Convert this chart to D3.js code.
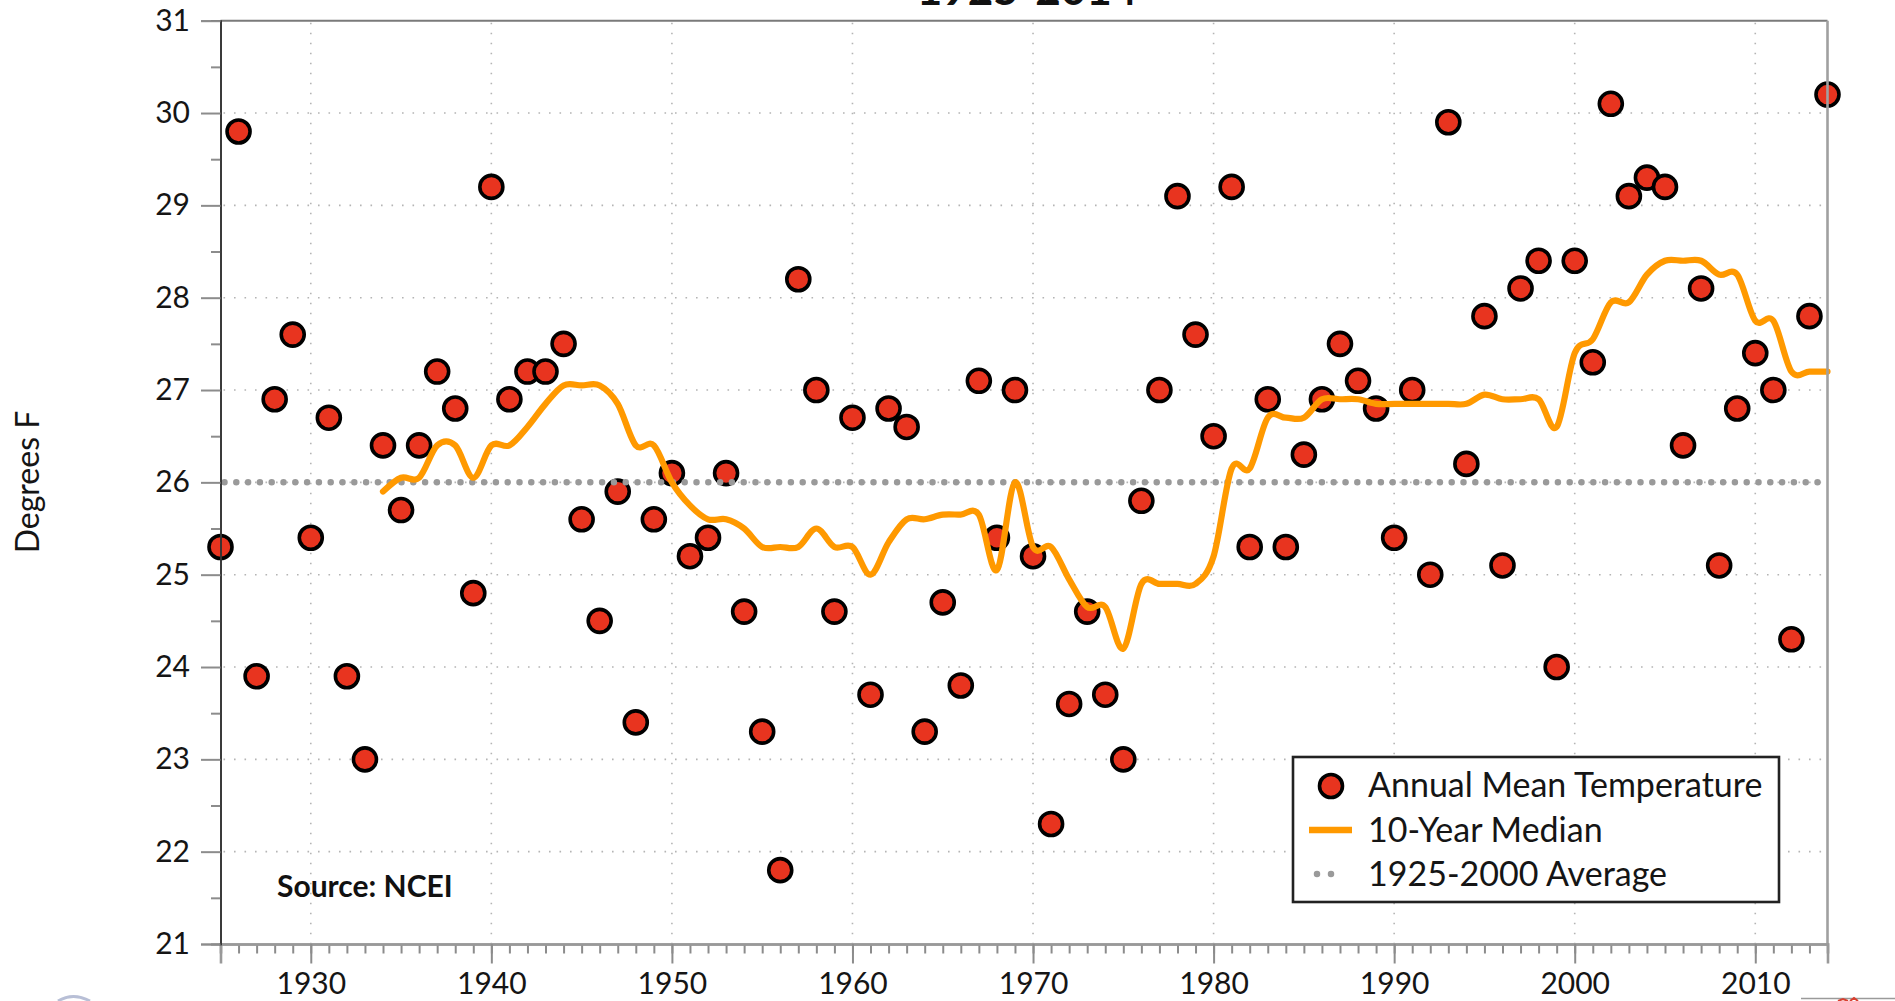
<!DOCTYPE html>
<html>
<head>
<meta charset="utf-8">
<script src="https://cdn.jsdelivr.net/npm/d3@7"></script>
<style>
  html, body { margin: 0; padding: 0; background: #ffffff; }
  svg { display: block; }
  text { font-family: Lato, "Open Sans", "DejaVu Sans", sans-serif; }
</style>
</head>
<body>
<svg id="chart" width="1895" height="1001"></svg>
<script>
// ---------------- data ----------------
const chartTitle = "1925-2014";
const yAxisTitle = "Degrees F";
const sourceNote = "Source: NCEI";

const years = [1925,1926,1927,1928,1929,1930,1931,1932,1933,1934,1935,1936,1937,1938,1939,
  1940,1941,1942,1943,1944,1945,1946,1947,1948,1949,1950,1951,1952,1953,1954,1955,1956,1957,
  1958,1959,1960,1961,1962,1963,1964,1965,1966,1967,1968,1969,1970,1971,1972,1973,1974,1975,
  1976,1977,1978,1979,1980,1981,1982,1983,1984,1985,1986,1987,1988,1989,1990,1991,1992,1993,
  1994,1995,1996,1997,1998,1999,2000,2001,2002,2003,2004,2005,2006,2007,2008,2009,2010,2011,
  2012,2013,2014];

const annualMean = [25.3,29.8,23.9,26.9,27.6,25.4,26.7,23.9,23.0,26.4,25.7,26.4,27.2,26.8,24.8,
  29.2,26.9,27.2,27.2,27.5,25.6,24.5,25.9,23.4,25.6,26.1,25.2,25.4,26.1,24.6,23.3,21.8,28.2,
  27.0,24.6,26.7,23.7,26.8,26.6,23.3,24.7,23.8,27.1,25.4,27.0,25.2,22.3,23.6,24.6,23.7,23.0,
  25.8,27.0,29.1,27.6,26.5,29.2,25.3,26.9,25.3,26.3,26.9,27.5,27.1,26.8,25.4,27.0,25.0,29.9,
  26.2,27.8,25.1,28.1,28.4,24.0,28.4,27.3,30.1,29.1,29.3,29.2,26.4,28.1,25.1,26.8,27.4,27.0,
  24.3,27.8,30.2];

const medianYears = [1934,1935,1936,1937,1938,1939,1940,1941,1942,1943,1944,1945,1946,1947,1948,
  1949,1950,1951,1952,1953,1954,1955,1956,1957,1958,1959,1960,1961,1962,1963,1964,1965,1966,
  1967,1968,1969,1970,1971,1972,1973,1974,1975,1976,1977,1978,1979,1980,1981,1982,1983,1984,
  1985,1986,1987,1988,1989,1990,1991,1992,1993,1994,1995,1996,1997,1998,1999,2000,2001,2002,
  2003,2004,2005,2006,2007,2008,2009,2010,2011,2012,2013,2014];

const median10yr = [25.9,26.05,26.05,26.4,26.4,26.05,26.4,26.4,26.6,26.85,27.05,27.05,27.05,26.85,26.4,
  26.4,26.0,25.75,25.6,25.6,25.5,25.3,25.3,25.3,25.5,25.3,25.3,25.0,25.35,25.6,25.6,25.65,25.65,
  25.65,25.05,26.0,25.3,25.3,24.95,24.65,24.65,24.2,24.9,24.9,24.9,24.9,25.2,26.15,26.15,26.7,26.7,
  26.7,26.9,26.9,26.9,26.85,26.85,26.85,26.85,26.85,26.85,26.95,26.9,26.9,26.9,26.6,27.4,27.55,27.95,
  27.95,28.25,28.4,28.4,28.4,28.25,28.25,27.75,27.75,27.2,27.2,27.2];

const averageValue = 26.0;
const averageYears = [1925, 2014];

const xMajorTicks = [1930,1940,1950,1960,1970,1980,1990,2000,2010];
const xMinorTicks = years;
const yMajorTicks = [21,22,23,24,25,26,27,28,29,30,31];
const yMinorTicks = [21.5,22.5,23.5,24.5,25.5,26.5,27.5,28.5,29.5,30.5];

const legendLabels = ["Annual Mean Temperature", "10-Year Median", "1925-2000 Average"];

// ---------------- layout ----------------
const plot = { left: 220.5, right: 1827.5, top: 20.7, bottom: 944 };
const colors = { point: "#E8341F", pointStroke: "#000000", median: "#FF9900",
                 avg: "#9a9a9a", grid: "#b4b4b4", axis: "#8c8c8c", text: "#151515" };

const svg = d3.select("#chart");
const x = d3.scaleLinear().domain([1925, 2014]).range([plot.left, plot.right]);
const y = d3.scaleLinear().domain([21, 31]).range([plot.bottom, plot.top]);

// grid
const grid = svg.append("g");
grid.selectAll("line.vg").data(xMajorTicks).enter().append("line")
  .attr("x1", d => x(d)).attr("x2", d => x(d))
  .attr("y1", plot.top + 2).attr("y2", plot.bottom)
  .attr("stroke", colors.grid).attr("stroke-width", 1.6)
  .attr("stroke-dasharray", "1.6 8.4");
grid.selectAll("line.hg").data(yMajorTicks.filter(d => d > 21 && d < 31)).enter().append("line")
  .attr("x1", plot.left + 3).attr("x2", plot.right)
  .attr("y1", d => y(d)).attr("y2", d => y(d))
  .attr("stroke", colors.grid).attr("stroke-width", 1.6)
  .attr("stroke-dasharray", "1.6 8.9");

// points
const pts = years.map((yr, i) => ({ yr, v: annualMean[i] }));
svg.append("g").selectAll("circle").data(pts).enter().append("circle")
  .attr("cx", d => x(d.yr)).attr("cy", d => y(d.v)).attr("r", 11.5)
  .attr("fill", colors.point).attr("stroke", colors.pointStroke).attr("stroke-width", 3.6);

// average line
svg.append("line")
  .attr("x1", x(averageYears[0]) + 4).attr("x2", x(averageYears[1]))
  .attr("y1", y(averageValue)).attr("y2", y(averageValue))
  .attr("stroke", colors.avg).attr("stroke-width", 6.5)
  .attr("stroke-linecap", "round").attr("stroke-dasharray", "0 11.8");

// median line
const medPts = medianYears.map((yr, i) => ({ yr, v: median10yr[i] }));
const line = d3.line().x(d => x(d.yr)).y(d => y(d.v)).curve(d3.curveCatmullRom.alpha(0));
svg.append("path").datum(medPts).attr("d", line)
  .attr("fill", "none").attr("stroke", colors.median).attr("stroke-width", 6.2)
  .attr("stroke-linejoin", "round").attr("stroke-linecap", "round");

// frame (top & right)
svg.append("line").attr("x1", plot.left).attr("x2", plot.right)
  .attr("y1", plot.top).attr("y2", plot.top)
  .attr("stroke", "#7a7a7a").attr("stroke-width", 2);
svg.append("line").attr("x1", plot.right).attr("x2", plot.right)
  .attr("y1", plot.top).attr("y2", plot.bottom)
  .attr("stroke", "#a0a0a0").attr("stroke-width", 2.6);

// x axis
const xMinor = d3.axisBottom(x).tickValues(xMinorTicks).tickSize(9.5).tickFormat("");
const xMajor = d3.axisBottom(x).tickValues(xMajorTicks).tickSize(19.5).tickPadding(9)
  .tickFormat(d3.format("d"));
const gxm = svg.append("g").attr("transform", `translate(0,${plot.bottom})`).call(xMinor);
const gxM = svg.append("g").attr("transform", `translate(0,${plot.bottom})`).call(xMajor);
[gxm, gxM].forEach(g => {
  g.select(".domain").attr("stroke", "#999999").attr("stroke-width", 2.6);
  g.selectAll(".tick line").attr("stroke", colors.axis).attr("stroke-width", 2);
});
gxM.selectAll(".tick text").attr("fill", colors.text)
  .style("font-size", "30px").style("font-family", "Lato, sans-serif");

// y axis
const yMinor = d3.axisLeft(y).tickValues(yMinorTicks).tickSize(9.5).tickFormat("");
const yMajor = d3.axisLeft(y).tickValues(yMajorTicks).tickSize(19.5).tickPadding(11)
  .tickFormat(d3.format("d"));
const gym = svg.append("g").attr("transform", `translate(${plot.left},0)`).call(yMinor);
const gyM = svg.append("g").attr("transform", `translate(${plot.left},0)`).call(yMajor);
[gym, gyM].forEach(g => {
  g.select(".domain").attr("stroke", "#333333").attr("stroke-width", 1.6);
  g.selectAll(".tick line").attr("stroke", colors.axis).attr("stroke-width", 2);
});
gyM.selectAll(".tick text").attr("fill", colors.text)
  .style("font-size", "30px").style("font-family", "Lato, sans-serif");

// title (cut off at the top edge, as in the source image)
svg.append("text").attr("x", 1027).attr("y", 5).attr("text-anchor", "middle")
  .attr("fill", "#111").style("font-size", "44px").style("font-weight", "bold")
  .text(chartTitle);

// y axis title
svg.append("text").attr("transform", "translate(39,482) rotate(-90)")
  .attr("text-anchor", "middle").attr("fill", colors.text)
  .style("font-size", "32px").text(yAxisTitle);

// source note
svg.append("text").attr("x", 277).attr("y", 897).attr("fill", "#111")
  .style("font-size", "30px").style("font-weight", "bold").text(sourceNote);

// legend
const lg = svg.append("g");
lg.append("rect").attr("x", 1293).attr("y", 757).attr("width", 486).attr("height", 145)
  .attr("fill", "#ffffff").attr("stroke", "#222222").attr("stroke-width", 2.6);
lg.append("circle").attr("cx", 1331).attr("cy", 786).attr("r", 11.5)
  .attr("fill", colors.point).attr("stroke", colors.pointStroke).attr("stroke-width", 3.6);
lg.append("line").attr("x1", 1309).attr("x2", 1352).attr("y1", 830).attr("y2", 830)
  .attr("stroke", colors.median).attr("stroke-width", 6.5);
lg.append("line").attr("x1", 1317).attr("x2", 1345).attr("y1", 874).attr("y2", 874)
  .attr("stroke", colors.avg).attr("stroke-width", 6.5)
  .attr("stroke-linecap", "round").attr("stroke-dasharray", "0 14");
const legendY = [797, 842, 886];
lg.selectAll("text.lt").data(legendLabels).enter().append("text")
  .attr("x", 1368).attr("y", (d, i) => legendY[i]).attr("fill", colors.text)
  .style("font-size", "34px").text(d => d);

// small cropped artifacts at the bottom edge of the source image
svg.append("path").attr("d", "M58,1001 Q73,992 90,1001").attr("fill", "none")
  .attr("stroke", "#b8bfd6").attr("stroke-width", 3);
svg.append("line").attr("x1", 1801).attr("x2", 1895).attr("y1", 998.5).attr("y2", 998.5)
  .attr("stroke", "#9a9a9a").attr("stroke-width", 1.5);
svg.append("path").attr("d", "M1838,1001 L1843,999 L1848,1001 M1850,1001 L1854,998 L1858,1001")
  .attr("fill", "none").attr("stroke", "#d84030").attr("stroke-width", 2);
</script>
</body>
</html>
